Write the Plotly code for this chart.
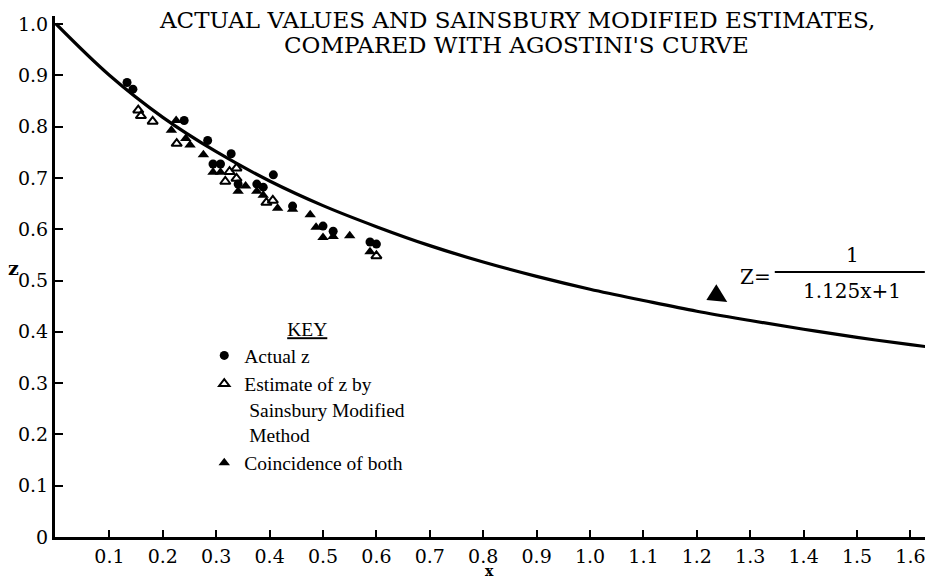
import plotly.graph_objects as go

# Agostini's curve Z = 1/(1.125x+1), as drawn
curve_x = [0.0, 0.1, 0.2, 0.3, 0.4, 0.5, 0.6, 0.7, 0.8, 0.9, 1.0, 1.1, 1.2, 1.3, 1.4, 1.5, 1.6, 1.645]
curve_z = [1.0, 0.900, 0.818, 0.751, 0.694, 0.646, 0.605, 0.568, 0.536, 0.508, 0.483, 0.461, 0.440, 0.422,
           0.405, 0.389, 0.375, 0.369]

# Actual z (dots)
actual_x = [0.133, 0.144, 0.240, 0.284, 0.328, 0.407, 0.294, 0.308, 0.341, 0.376, 0.388, 0.443, 0.500, 0.519, 0.588, 0.600]
actual_z = [0.886, 0.873, 0.812, 0.773, 0.747, 0.706, 0.727, 0.727, 0.688, 0.688, 0.682, 0.645, 0.606, 0.596, 0.575, 0.571]

# Estimate of z by Sainsbury Modified Method (open triangles)
est_x = [0.154, 0.159, 0.181, 0.226, 0.325, 0.338, 0.317, 0.338, 0.394, 0.406, 0.600]
est_z = [0.832, 0.821, 0.810, 0.767, 0.712, 0.719, 0.693, 0.699, 0.652, 0.656, 0.548]

# Coincidence of both (filled triangles)
coin_x = [0.216, 0.225, 0.243, 0.251, 0.276, 0.294, 0.308, 0.341, 0.355, 0.376, 0.388, 0.415,
          0.443, 0.476, 0.487, 0.500, 0.519, 0.550, 0.588]
coin_z = [0.793, 0.812, 0.777, 0.764, 0.745, 0.711, 0.711, 0.674, 0.684, 0.674, 0.666, 0.641,
          0.639, 0.628, 0.604, 0.584, 0.586, 0.587, 0.556]

x_ticks = [0.1, 0.2, 0.3, 0.4, 0.5, 0.6, 0.7, 0.8, 0.9, 1.0, 1.1, 1.2, 1.3, 1.4, 1.5, 1.6]
x_ticktext = ["0.1", "0.2", "0.3", "0.4", "0.5", "0.6", "0.7", "0.8", "0.9", "1.0",
              "1.1", "1.2", "1.3", "1.4", "1.5", "1.6"]
y_ticks = [0, 0.1, 0.2, 0.3, 0.4, 0.5, 0.6, 0.7, 0.8, 0.9, 1.0]
y_ticktext = ["0", "0.1", "0.2", "0.3", "0.4", "0.5", "0.6", "0.7", "0.8", "0.9", "1.0"]

SERIF = "DejaVu Serif"
SERIF2 = "Liberation Serif"

fig = go.Figure()
fig.add_trace(go.Scatter(x=curve_x, y=curve_z, mode="lines", line=dict(color="black", width=3.2, shape="spline"),
                         showlegend=False, hoverinfo="skip"))
fig.add_trace(go.Scatter(x=actual_x, y=actual_z, mode="markers", name="Actual z",
                         marker=dict(symbol="circle", size=9, color="black")))
fig.add_trace(go.Scatter(x=est_x, y=est_z, mode="markers",
                         name="Estimate of z by<br>&nbsp;Sainsbury Modified<br>&nbsp;Method",
                         marker=dict(symbol="triangle-up-open", size=9, color="black", line=dict(width=2, color="black"))))
fig.add_trace(go.Scatter(x=coin_x, y=coin_z, mode="markers", name="Coincidence of both",
                         marker=dict(symbol="triangle-up", size=10, color="black")))

annotations = [
    dict(text="ACTUAL VALUES AND SAINSBURY MODIFIED ESTIMATES,", xref="paper", yref="paper",
         x=0.526, y=0.992, yanchor="middle", showarrow=False, font=dict(family=SERIF, size=23, color="black")),
    dict(text="COMPARED WITH AGOSTINI'S CURVE", xref="paper", yref="paper",
         x=0.526, y=0.944, yanchor="middle", showarrow=False, font=dict(family=SERIF, size=23, color="black")),
    dict(text="<b>z</b>", xref="paper", yref="paper", x=-0.047, y=0.516, showarrow=False,
         xanchor="center", yanchor="middle", font=dict(family=SERIF, size=19, color="black")),
    dict(text="<b>x</b>", xref="paper", yref="paper", x=0.495, y=-0.065, showarrow=False,
         xanchor="center", yanchor="middle", borderpad=0, font=dict(family=SERIF, size=14, color="black")),
    dict(text="Z=", x=1.309, y=0.507, showarrow=False, yanchor="middle", font=dict(family=SERIF, size=20, color="black")),
    dict(text="1", x=1.491, y=0.550, showarrow=False, yanchor="middle", font=dict(family=SERIF, size=20, color="black")),
    dict(text="1.125x+1", x=1.491, y=0.480, showarrow=False, yanchor="middle", font=dict(family=SERIF, size=20, color="black")),
    dict(text="", x=1.257, y=0.458, ax=-16, ay=-10, showarrow=True, arrowhead=2, arrowsize=1.5,
         arrowwidth=2.5, arrowcolor="black"),
]

fig.update_layout(
    width=925, height=572,
    margin=dict(l=47, r=0, t=8, b=43),
    paper_bgcolor="white", plot_bgcolor="white",
    font=dict(family=SERIF, color="black"),
    annotations=annotations,
    shapes=[dict(type="line", x0=1.346, x1=1.627, y0=0.5166, y1=0.5166, line=dict(color="black", width=2))],
    legend=dict(x=0.170, y=0.434, xanchor="left", yanchor="top", bgcolor="rgba(0,0,0,0)",
                font=dict(family=SERIF2, size=19.5, color="black"), valign="top",
                title=dict(text="<u>KEY</u>", side="top center", font=dict(family=SERIF2, size=19.5)),
                itemwidth=30, tracegroupgap=0),
    xaxis=dict(range=[-0.0019, 1.6423], showline=True, linecolor="black", linewidth=3, showgrid=False, zeroline=False,
               tickmode="array", tickvals=x_ticks, ticktext=x_ticktext, ticks="inside", ticklen=7,
               tickwidth=2, tickcolor="black", tickfont=dict(family=SERIF, size=19, color="black"),
               automargin=False, ticklabeloverflow="allow"),
    yaxis=dict(range=[0, 1.0156], showline=True, linecolor="black", linewidth=3, showgrid=False, zeroline=False,
               tickmode="array", tickvals=y_ticks, ticktext=y_ticktext, ticks="inside", ticklen=8,
               tickwidth=2, tickcolor="black", tickfont=dict(family=SERIF, size=19, color="black"),
               automargin=False, ticklabeloverflow="allow"),
)

fig.write_html("out.html")
